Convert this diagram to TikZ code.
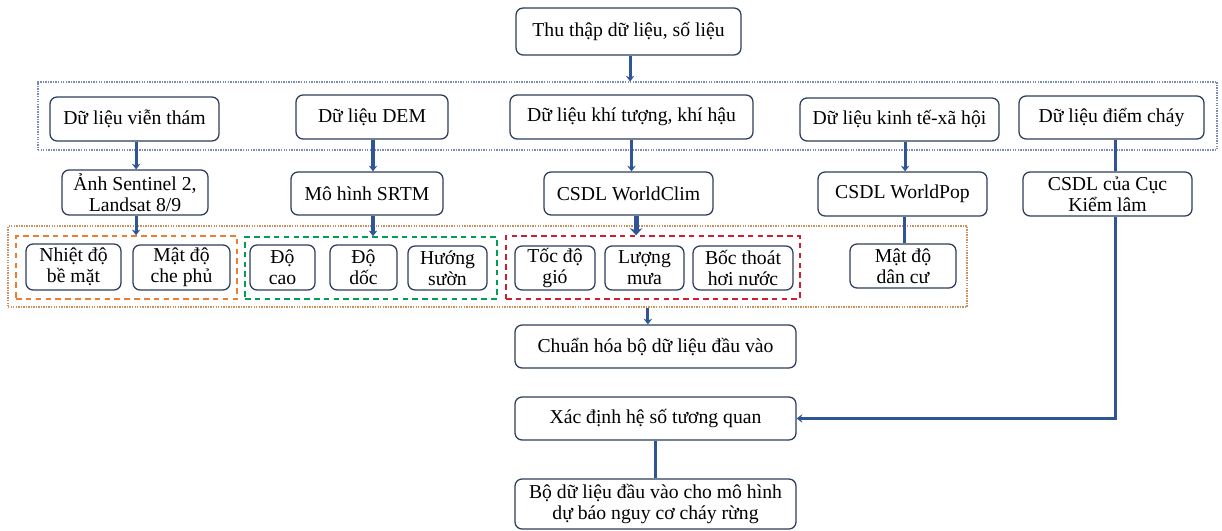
\documentclass[tikz,border=0pt]{standalone}
\usepackage{fontspec}
\setmainfont{Liberation Serif}
\usetikzlibrary{arrows.meta}
\definecolor{boxline}{RGB}{44,62,90}
\definecolor{linkblue}{RGB}{47,85,151}
\definecolor{dataframe}{RGB}{120,140,180}
\definecolor{outframe}{RGB}{200,145,95}
\definecolor{grporange}{RGB}{237,125,49}
\definecolor{grpgreen}{RGB}{0,160,80}
\definecolor{grpred}{RGB}{205,30,50}
\newcommand*{\boxfont}{\fontsize{14}{15}\selectfont}
\newcommand{\pxbox}[7]{%
% style, name, left, top, right, bottom, text (pixel coordinates)
  \node[#1, minimum width={(#5-#3)*0.025cm}, minimum height={(#6-#4)*0.025cm}]
    (#2) at ({(#3+#5)/2},{(#4+#6)/2}) {#7};
}

\begin{document}
\begin{tikzpicture}[x=0.025cm, y=-0.025cm,
    box/.style = {draw = boxline, line width = 0.9pt, rounded corners = 5pt,
      fill = white, inner sep = 0pt, align = center, font = \boxfont},
    frame/.style = {draw = #1, line width = 0.8pt, dash pattern = on 1pt off 0.8pt,
      inner sep = 0pt},
    group/.style = {draw = #1, line width = 1.1pt, dash pattern = on 4pt off 3pt,
      inner sep = 0pt},
    link/.style = {draw = linkblue, line width = 2.2pt,
      -{Stealth[length = 4pt, width = 6pt]}},
    plain/.style = {draw = linkblue, line width = 2.2pt}]
  \useasboundingbox (0,0) rectangle (1222,531);
  % frames
  \pxbox{frame=dataframe}{data}{38}{82}{1217}{150}{}
  \pxbox{frame=outframe}{feat}{8}{226}{967}{307}{}
  \pxbox{group=grporange}{gsat}{16}{236}{237}{299}{}
  \pxbox{group=grpgreen}{gdem}{245}{237}{497}{299}{}
  \pxbox{group=grpred}{gclim}{506}{236}{800}{299}{}
  % top
  \pxbox{box}{collect}{516}{8}{741}{55}{Thu thập dữ liệu, số liệu}
  % data sources
  \pxbox{box}{remote}{50}{97}{219}{141}{Dữ liệu viễn thám}
  \pxbox{box}{dem}{296}{95}{448}{139}{Dữ liệu DEM}
  \pxbox{box}{climate}{510}{95}{753}{139}{Dữ liệu khí tượng, khí hậu}
  \pxbox{box}{socio}{800}{98}{999}{141}{Dữ liệu kinh tế-xã hội}
  \pxbox{box}{fire}{1019}{96}{1204}{139}{Dữ liệu điểm cháy}
  % databases
  \pxbox{box}{sentinel}{62}{170}{208}{215}{Ảnh Sentinel 2,\\Landsat 8/9}
  \pxbox{box}{srtm}{291}{172}{443}{215}{Mô hình SRTM}
  \pxbox{box}{worldclim}{544}{172}{713}{215}{CSDL WorldClim}
  \pxbox{box}{worldpop}{818}{172}{987}{216}{CSDL WorldPop}
  \pxbox{box}{forest}{1023}{172}{1192}{216}{CSDL của Cục\\Kiểm lâm}
  % factors
  \pxbox{box}{lst}{26}{244}{121}{290}{Nhiệt độ\\bề mặt}
  \pxbox{box}{cover}{133}{245}{230}{290}{Mật độ\\che phủ}
  \pxbox{box}{elev}{250}{245}{315}{290}{Độ\\cao}
  \pxbox{box}{slope}{330}{245}{397}{290}{Độ\\dốc}
  \pxbox{box}{aspect}{408}{246}{487}{290}{Hướng\\sườn}
  \pxbox{box}{wind}{515}{246}{595}{290}{Tốc độ\\gió}
  \pxbox{box}{rain}{605}{246}{684}{290}{Lượng\\mưa}
  \pxbox{box}{evap}{693}{246}{793}{290}{Bốc thoát\\hơi nước}
  \pxbox{box}{popden}{850}{244}{956}{288}{Mật độ\\dân cư}
  % processing
  \pxbox{box}{normal}{515}{325}{796}{368}{Chuẩn hóa bộ dữ liệu đầu vào}
  \pxbox{box}{corr}{515}{397}{796}{440}{Xác định hệ số tương quan}
  \pxbox{box}{result}{515}{479}{796}{529}{Bộ dữ liệu đầu vào cho mô hình\\dự báo nguy cơ cháy rừng}
  % connectors
  \draw[link] ([xshift=0.04cm]collect.south) -- ([xshift=0.04cm]collect.south |- data.north);
  \draw[link] ([xshift=0.04cm]remote.south) -- ([xshift=0.04cm]remote.south |- sentinel.north);
  \draw[link] ([xshift=0.025cm]dem.south) -- ([xshift=0.025cm]dem.south |- srtm.north);
  \draw[link] (climate.south) -- (climate.south |- worldclim.north);
  \draw[link] ([xshift=0.14cm]socio.south) -- ([xshift=0.14cm]socio.south |- worldpop.north);
  \draw[plain] ([xshift=0.09cm]fire.south) -- ([xshift=0.09cm]fire.south |- forest.north);
  \draw[link] ([xshift=0.04cm]remote.south |- sentinel.south) -- ([xshift=0.04cm]remote.south |- gsat.north);
  \draw[link] ([xshift=0.025cm]dem.south |- srtm.south) -- ([xshift=0.025cm]dem.south |- gdem.north);
  \draw[link, line width = 3.5pt, -{Stealth[length = 5pt, width = 9pt]}]
    ([xshift=0.19cm]worldclim.south) -- ([xshift=0.19cm]worldclim.south |- gclim.north);
  \draw[plain] ([xshift=0.06cm]worldpop.south) -- ([xshift=0.06cm]worldpop.south |- popden.north);
  \draw[link] ([xshift=-0.19cm]normal.north |- feat.south) -- ([xshift=-0.19cm]normal.north);
  \draw[link] ([xshift=0.19cm]forest.south) |- (corr.east);
  \draw[plain] (corr.south) -- (result.north);
\end{tikzpicture}
\end{document}
